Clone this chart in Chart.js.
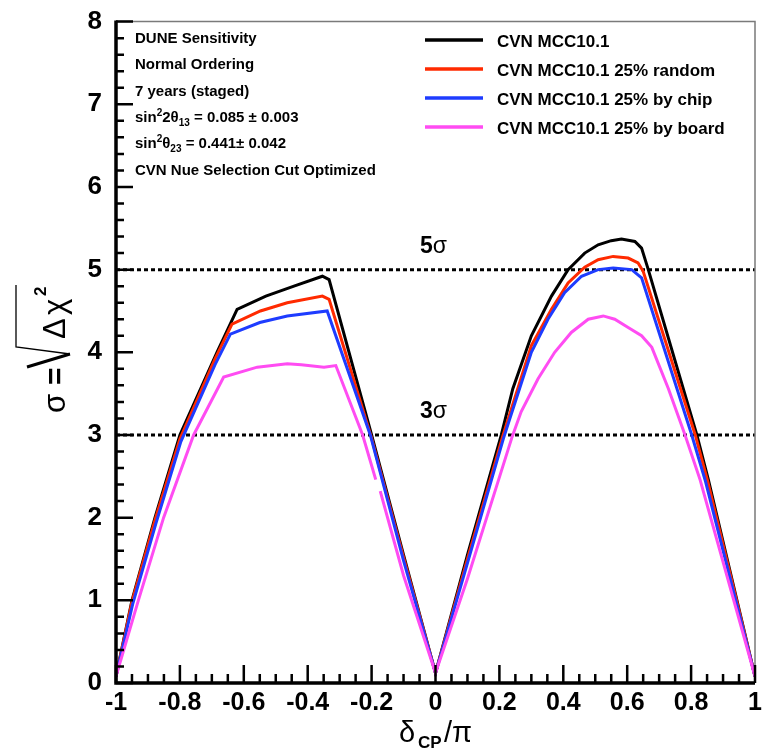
<!DOCTYPE html>
<html>
<head>
<meta charset="utf-8">
<script src="https://cdn.jsdelivr.net/npm/chart.js@4.4.1/dist/chart.umd.min.js"></script>
<style>
  html, body { margin: 0; padding: 0; background: #fff; }
  canvas { display: block; }
</style>
</head>
<body>
<canvas id="sens" width="765" height="755"></canvas>
<script>
const FONT = '"Liberation Sans", Arial, Helvetica, sans-serif';

const seriesNames = ['CVN MCC10.1', 'CVN MCC10.1 25% random', 'CVN MCC10.1 25% by chip', 'CVN MCC10.1 25% by board'];
const seriesColours = ['#000000', '#ff2a00', '#1e3cff', '#ff4cf2'];

// [deltaCP/pi, sigma]
const nominal = [[-1, 0.08], [-0.95, 1.0], [-0.878, 2.0], [-0.8, 3.0], [-0.684, 4.0], [-0.621, 4.52], [-0.531, 4.68],
  [-0.443, 4.8], [-0.354, 4.92], [-0.333, 4.88], [-0.2, 3.0], [-0.1, 1.55], [0, 0.12], [0.1, 1.55], [0.206, 3.0],
  [0.242, 3.56], [0.3, 4.2], [0.363, 4.68], [0.415, 5.0], [0.467, 5.2], [0.509, 5.3], [0.55, 5.35], [0.582, 5.37],
  [0.624, 5.34], [0.645, 5.26], [0.666, 5.0], [0.818, 3.0], [0.854, 2.46], [1, 0.08]];
const random25 = [[-1, 0.08], [-0.95, 0.98], [-0.878, 1.97], [-0.8, 2.95], [-0.69, 3.92], [-0.637, 4.34], [-0.548, 4.5],
  [-0.464, 4.6], [-0.354, 4.68], [-0.333, 4.64], [-0.2, 2.96], [-0.1, 1.52], [0, 0.12], [0.1, 1.5], [0.21, 2.98],
  [0.3, 4.08], [0.363, 4.52], [0.415, 4.84], [0.467, 5.03], [0.509, 5.12], [0.556, 5.16], [0.603, 5.14],
  [0.634, 5.08], [0.65, 4.98], [0.813, 3.0], [0.852, 2.44], [1, 0.08]];
const chip25 = [[-1, 0.08], [-0.948, 0.95], [-0.875, 1.93], [-0.797, 2.92], [-0.69, 3.85], [-0.642, 4.22], [-0.55, 4.36],
  [-0.464, 4.44], [-0.339, 4.5], [-0.204, 3.0], [-0.1, 1.48], [0, 0.12], [0.1, 1.45], [0.212, 2.95], [0.3, 4.0],
  [0.352, 4.4], [0.404, 4.72], [0.457, 4.92], [0.509, 5.0], [0.556, 5.02], [0.614, 5.0], [0.645, 4.9],
  [0.802, 3.0], [0.845, 2.44], [1, 0.08]];
// null = hole in the curve
const board25 = [[-1, 0.08], [-0.93, 1.0], [-0.851, 2.0], [-0.757, 3.0], [-0.663, 3.7], [-0.558, 3.82], [-0.464, 3.86],
  [-0.42, 3.85], [-0.349, 3.82], [-0.312, 3.84], [-0.228, 3.0], [-0.187, 2.46], [-0.18, null], [-0.173, 2.32],
  [-0.1, 1.3], [0, 0.12], [0.1, 1.26], [0.24, 2.98], [0.268, 3.28], [0.321, 3.68], [0.373, 4.0], [0.425, 4.24],
  [0.478, 4.4], [0.525, 4.44], [0.561, 4.4], [0.603, 4.3], [0.645, 4.2], [0.677, 4.06], [0.729, 3.56],
  [0.781, 3.0], [0.828, 2.46], [1, 0.08]];

const sigmaLines = [3, 5];
const xTicks = [-1, -0.8, -0.6, -0.4, -0.2, 0, 0.2, 0.4, 0.6, 0.8, 1];
const yTicks = [0, 1, 2, 3, 4, 5, 6, 7, 8];

// text box, pieces: [text, 'sup'|'sub'|undefined]
const infoLines = [
  [['DUNE Sensitivity']],
  [['Normal Ordering']],
  [['7 years (staged)']],
  [['sin'], ['2', 'sup'], ['2θ'], ['13', 'sub'], [' = 0.085 ± 0.003']],
  [['sin'], ['2', 'sup'], ['θ'], ['23', 'sub'], [' = 0.441± 0.042']],
  [['CVN Nue Selection Cut Optimized']]
];

function drawRich(ctx, x, y, parts, size) {
  for (const [t, kind] of parts) {
    const s = kind ? Math.round(size * 0.65) : size;
    const dy = kind === 'sup' ? -size * 0.42 : kind === 'sub' ? size * 0.28 : 0;
    ctx.font = `bold ${s}px ${FONT}`;
    ctx.fillText(t, x, y + dy);
    x += ctx.measureText(t).width;
  }
}

const rootStyle = {
  id: 'rootStyle',
  beforeDatasetsDraw(chart) {
    const { ctx, chartArea: a, scales: { y } } = chart;
    ctx.save();
    ctx.strokeStyle = '#000';
    ctx.lineWidth = 3;
    ctx.setLineDash([4, 3]);
    sigmaLines.forEach(s => {
      const py = y.getPixelForValue(s);
      ctx.beginPath();
      ctx.moveTo(a.left, py);
      ctx.lineTo(a.right, py);
      ctx.stroke();
    });
    ctx.restore();
  },
  afterDraw(chart) {
    const { ctx, chartArea: a, scales: { x, y } } = chart;
    ctx.save();

    // frame
    ctx.strokeStyle = '#7a7a7a';
    ctx.lineWidth = 1.5;
    ctx.beginPath();
    ctx.moveTo(a.left, a.top);
    ctx.lineTo(a.right, a.top);
    ctx.lineTo(a.right, a.bottom);
    ctx.stroke();

    ctx.strokeStyle = '#000';
    ctx.lineWidth = 3.5;
    ctx.beginPath();
    ctx.moveTo(a.left, a.top - 1);
    ctx.lineTo(a.left, a.bottom);
    ctx.lineTo(a.right, a.bottom);
    ctx.stroke();

    // inside ticks
    ctx.lineWidth = 2.5;
    ctx.beginPath();
    for (let i = 0; i <= 40; i++) {
      const py = y.getPixelForValue(i * 0.2);
      ctx.moveTo(a.left, py);
      ctx.lineTo(a.left + (i % 5 === 0 ? 17 : 8), py);
    }
    for (let i = 0; i <= 40; i++) {
      const px = x.getPixelForValue(-1 + i * 0.05);
      ctx.moveTo(px, a.bottom);
      ctx.lineTo(px, a.bottom - (i % 4 === 0 ? 18 : 9));
    }
    ctx.stroke();

    // sigma labels
    ctx.fillStyle = '#000';
    ctx.textBaseline = 'alphabetic';
    sigmaLines.forEach(s => {
      const py = y.getPixelForValue(s) - 17;
      ctx.font = `bold 23px ${FONT}`;
      ctx.fillText(String(s), 420, py);
      const w = ctx.measureText(String(s)).width;
      ctx.font = `23px ${FONT}`;
      ctx.fillText('σ', 420 + w, py);
    });

    // info text
    infoLines.forEach((parts, i) => drawRich(ctx, 135, 43 + i * 26.3, parts, 15));

    // legend
    chart.data.datasets.forEach((ds, i) => {
      const ly = 40 + i * 29;
      ctx.strokeStyle = ds.borderColor;
      ctx.lineWidth = 3.5;
      ctx.beginPath();
      ctx.moveTo(425, ly);
      ctx.lineTo(483, ly);
      ctx.stroke();
      ctx.font = `bold 17px ${FONT}`;
      ctx.fillStyle = '#000';
      ctx.fillText(ds.label, 497, ly + 6.5);
    });

    // x title: deltaCP / pi
    ctx.font = `29px ${FONT}`;
    ctx.fillText('δ', 399, 742);
    ctx.font = `bold 17px ${FONT}`;
    ctx.fillText('CP', 418, 748);
    ctx.font = `29px ${FONT}`;
    ctx.fillText('/π', 444, 742);

    // y title: sigma = sqrt(delta chi^2)
    ctx.translate(65, 415);
    ctx.rotate(-Math.PI / 2);
    ctx.font = `31px ${FONT}`;
    ctx.fillText('σ', 2, 0);
    ctx.font = `bold 30px ${FONT}`;
    ctx.fillText('=', 30, 0);
    ctx.strokeStyle = '#000';
    ctx.lineWidth = 3;
    ctx.beginPath();
    ctx.moveTo(48, -38);
    ctx.lineTo(61, 5);
    ctx.stroke();
    ctx.lineWidth = 1.3;
    ctx.beginPath();
    ctx.moveTo(61, 5);
    ctx.lineTo(68, -49);
    ctx.lineTo(130, -49);
    ctx.stroke();
    ctx.font = `31px ${FONT}`;
    ctx.fillText('Δ', 76, 0);
    ctx.fillText('χ', 100, 0);
    ctx.font = `bold 17px ${FONT}`;
    ctx.fillText('2', 119, -19);

    ctx.restore();
  }
};

const curves = [nominal, random25, chip25, board25];

new Chart(document.getElementById('sens'), {
  type: 'line',
  data: {
    datasets: curves.map((pts, i) => ({
      label: seriesNames[i],
      data: pts.map(([x, y]) => ({ x, y })),
      borderColor: seriesColours[i],
      backgroundColor: seriesColours[i],
      borderWidth: 3,
      pointRadius: 0,
      tension: 0,
      spanGaps: false,
      order: 3 - i
    }))
  },
  options: {
    responsive: false,
    animation: false,
    devicePixelRatio: 1,
    layout: { padding: { left: 0, right: 10, top: 16, bottom: 0 } },
    plugins: { legend: { display: false }, tooltip: { enabled: false } },
    scales: {
      x: {
        type: 'linear',
        min: -1,
        max: 1,
        grid: { display: false },
        border: { display: false },
        afterBuildTicks: s => { s.ticks = xTicks.map(v => ({ value: v })); },
        afterFit: s => { s.height = 72; },
        ticks: {
          color: '#000',
          padding: -3,
          maxRotation: 0,
          autoSkip: false,
          font: { family: FONT, size: 25, weight: 'bold' },
          callback: v => String(Math.round(v * 10) / 10)
        }
      },
      y: {
        type: 'linear',
        min: 0,
        max: 8,
        grid: { display: false },
        border: { display: false },
        afterBuildTicks: s => { s.ticks = yTicks.map(v => ({ value: v })); },
        afterFit: s => { s.width = 116; },
        ticks: {
          color: '#000',
          padding: 6,
          font: { family: FONT, size: 26, weight: 'bold' },
          callback: v => String(v)
        }
      }
    }
  },
  plugins: [rootStyle]
});
</script>
</body>
</html>
